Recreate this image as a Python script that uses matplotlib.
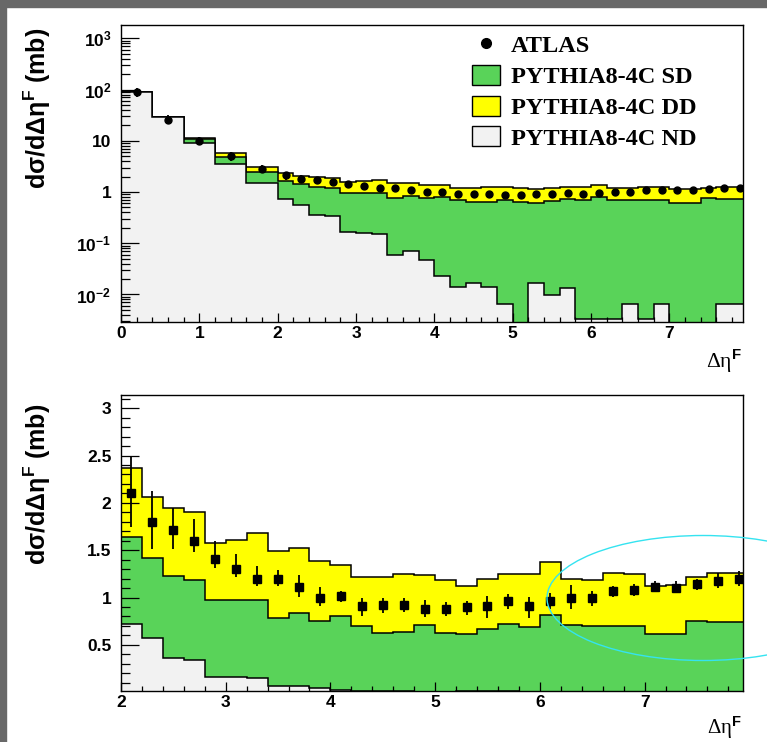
import numpy as np
import matplotlib
matplotlib.use('Agg')
import matplotlib.pyplot as plt
from matplotlib.patches import Rectangle, Ellipse, Patch
from matplotlib.lines import Line2D
from matplotlib.ticker import FixedLocator, MultipleLocator, FixedFormatter, FuncFormatter, NullFormatter

plt.rcParams['mathtext.fontset'] = 'custom'
plt.rcParams['mathtext.rm'] = 'Liberation Sans:bold'
plt.rcParams['mathtext.bf'] = 'Liberation Sans:bold'
plt.rcParams['mathtext.it'] = 'Liberation Sans:bold'

# ---------------- data ----------------
edges = [0.0, 0.4, 0.8, 1.2, 1.6, 2.0, 2.2, 2.4, 2.6, 2.8, 3.0, 3.2, 3.4, 3.6, 3.8,
         4.0, 4.2, 4.4, 4.6, 4.8, 5.0, 5.2, 5.4, 5.6, 5.8, 6.0, 6.2, 6.4, 6.6, 6.8,
         7.0, 7.2, 7.4, 7.6, 7.8, 8.0]

nd = [89.0, 28.5, 9.1, 3.6, 1.5, 0.72, 0.57, 0.36, 0.34, 0.165, 0.16, 0.15, 0.06, 0.07, 0.047,
      0.023, 0.0137, 0.0165, 0.0137, 0.0065, 0.0, 0.0165, 0.0099, 0.0133, 0.0033,
      0.0033, 0.0033, 0.0066, 0.0033, 0.0066, 0.0, 0.0, 0.0, 0.0066, 0.0066]
sd = [1.0, 0.5, 1.8, 1.26, 0.97, 0.92, 0.85, 0.87, 0.85, 0.805, 0.81, 0.82, 0.72, 0.765, 0.708,
      0.777, 0.686, 0.613, 0.626, 0.703, 0.625, 0.593, 0.66, 0.707, 0.687,
      0.807, 0.707, 0.688, 0.692, 0.693, 0.61, 0.61, 0.755, 0.738, 0.738]
dd = [1.0, 0.5, 0.2, 0.94, 0.63, 0.73, 0.64, 0.72, 0.71, 0.61, 0.64, 0.71, 0.71, 0.685, 0.635,
      0.54, 0.52, 0.59, 0.61, 0.53, 0.565, 0.51, 0.53, 0.53, 0.56,
      0.56, 0.48, 0.495, 0.565, 0.55, 0.51, 0.52, 0.465, 0.515, 0.515]

data_x = [0.2, 0.6, 1.0, 1.4, 1.8, 2.1, 2.3, 2.5, 2.7, 2.9, 3.1, 3.3, 3.5, 3.7, 3.9,
          4.1, 4.3, 4.5, 4.7, 4.9, 5.1, 5.3, 5.5, 5.7, 5.9, 6.1, 6.3, 6.5, 6.7, 6.9,
          7.1, 7.3, 7.5, 7.7, 7.9]
data_y = [88.0, 26.0, 10.0, 5.0, 2.8, 2.105, 1.80, 1.71, 1.60, 1.41, 1.30, 1.20, 1.20, 1.11, 1.00,
          1.02, 0.905, 0.92, 0.92, 0.88, 0.88, 0.895, 0.905, 0.96, 0.905, 0.96, 1.00, 1.00, 1.07, 1.08,
          1.11, 1.105, 1.14, 1.175, 1.20]
data_hi = [106.0, 31.5, 12.1, 6.1, 3.4, 2.49, 2.13, 1.95, 1.83, 1.60, 1.46, 1.33, 1.29, 1.24, 1.11,
           1.07, 1.00, 1.00, 0.99, 0.975, 0.95, 0.965, 1.02, 1.035, 1.01, 1.045, 1.13, 1.07, 1.12, 1.14,
           1.17, 1.175, 1.20, 1.26, 1.28]
data_lo = [73.0, 21.5, 8.3, 4.1, 2.3, 1.75, 1.51, 1.51, 1.48, 1.31, 1.22, 1.12, 1.12, 1.01, 0.91,
           0.95, 0.80, 0.84, 0.85, 0.79, 0.80, 0.82, 0.78, 0.88, 0.78, 0.88, 0.88, 0.91, 1.01, 1.02,
           1.06, 1.045, 1.08, 1.10, 1.12]

legend_labels = ['ATLAS', 'PYTHIA8-4C SD', 'PYTHIA8-4C DD', 'PYTHIA8-4C ND']
log_ticks = [1e-2, 1e-1, 1, 10, 1e2, 1e3]
log_tick_labels = [r'$\mathbf{10^{-2}}$', r'$\mathbf{10^{-1}}$', '1', '10',
                   r'$\mathbf{10^{2}}$', r'$\mathbf{10^{3}}$']

# ---------------- style ----------------
GREEN = '#59D359'
YELLOW = '#FFFF00'
GRAY = '#F2F2F2'
W, H = 767, 742

edges_a = np.array(edges)
nd_a, sd_a, dd_a = np.array(nd), np.array(sd), np.array(dd)
dx, dy = np.array(data_x), np.array(data_y)
dhi, dlo = np.array(data_hi), np.array(data_lo)

fig = plt.figure(figsize=(W / 100, H / 100), dpi=100)
fig.patch.set_facecolor('white')

def fx(px):
    return px / W

def fy(py):
    return 1 - py / H

ax1 = fig.add_axes([fx(121), fy(322), fx(743) - fx(121), fy(25) - fy(322)])
ax2 = fig.add_axes([fx(121), fy(691), fx(743) - fx(121), fy(395) - fy(691)])

tickfont = dict(family='Liberation Sans', weight='bold', size=12.5)


def draw_stack(ax, e, n, s, d, base, floor=None):
    layers = [(n + s + d, YELLOW), (n + s, GREEN), (n, GRAY)]
    for vals, col in layers:
        v = vals if floor is None else np.maximum(vals, floor)
        ax.stairs(v, e, baseline=base, fill=True, facecolor=col, edgecolor='none', lw=0)
        ax.stairs(v, e, baseline=base, fill=False, color='black', lw=1.1)


# top panel (log)
ax1.set_yscale('log')
draw_stack(ax1, edges_a, nd_a, sd_a, dd_a, base=1e-6, floor=1e-6)
ax1.errorbar(dx, dy, yerr=[dy - dlo, dhi - dy], fmt='o', color='black', ms=5,
             elinewidth=1.3, capsize=0, zorder=5)
ax1.set_xlim(0, 7.94)
ax1.set_ylim(0.0029, 1820)
ax1.yaxis.set_major_locator(FixedLocator(log_ticks))
ax1.yaxis.set_major_formatter(FixedFormatter(log_tick_labels))
minor = [m * 10.0 ** k for k in range(-3, 4) for m in range(2, 10)]
ax1.yaxis.set_minor_locator(FixedLocator(minor))
ax1.yaxis.set_minor_formatter(NullFormatter())
ax1.xaxis.set_major_locator(MultipleLocator(1))
ax1.xaxis.set_minor_locator(MultipleLocator(0.2))
ax1.xaxis.set_major_formatter(FuncFormatter(lambda v, p: '%g' % v))

# bottom panel (linear)
draw_stack(ax2, edges_a[5:], nd_a[5:], sd_a[5:], dd_a[5:], base=0.0)
ax2.errorbar(dx[5:], dy[5:], yerr=[dy[5:] - dlo[5:], dhi[5:] - dy[5:]], fmt='s', color='black',
             ms=5.5, elinewidth=1.3, capsize=0, zorder=5)
ax2.set_xlim(2, 7.94)
ax2.set_ylim(0.012, 3.14)
ax2.yaxis.set_major_locator(FixedLocator([0.5, 1, 1.5, 2, 2.5, 3]))
ax2.yaxis.set_minor_locator(MultipleLocator(0.1))
ax2.yaxis.set_major_formatter(FuncFormatter(lambda v, p: '%g' % v))
ax2.xaxis.set_major_locator(MultipleLocator(1))
ax2.xaxis.set_minor_locator(MultipleLocator(0.2))
ax2.xaxis.set_major_formatter(FuncFormatter(lambda v, p: '%g' % v))

for ax in (ax1, ax2):
    ax.tick_params(which='both', direction='in', top=False, right=False, width=0.9, color='black')
    ax.tick_params(axis='y', which='major', length=13, pad=7)
    ax.tick_params(axis='y', which='minor', length=6.5)
    ax.tick_params(axis='x', which='major', length=6.5, pad=3)
    ax.tick_params(axis='x', which='minor', length=3.5)
    for lab in ax.get_xticklabels() + ax.get_yticklabels():
        lab.set_fontproperties(matplotlib.font_manager.FontProperties(**tickfont))
    for sp in ax.spines.values():
        sp.set_linewidth(1.0)
        sp.set_zorder(6)

# legend
handles = [Line2D([], [], marker='o', color='black', ls='none', ms=7),
           Patch(facecolor=GREEN, edgecolor='black', lw=1),
           Patch(facecolor=YELLOW, edgecolor='black', lw=1),
           Patch(facecolor=GRAY, edgecolor='black', lw=1)]
leg = ax1.legend(handles, legend_labels, loc='upper left',
                 bbox_to_anchor=((472 - 121) / 622, (322 - 34) / 297),
                 frameon=False, borderpad=0, borderaxespad=0,
                 prop=dict(family='Liberation Serif', weight='bold', size=17.5),
                 handlelength=1.15, handleheight=0.9, handletextpad=0.45, labelspacing=0.3)

# axis titles
ylab = 'dσ/dΔη$^{\\mathbf{F}}$ (mb)'
fig.text(fx(37), fy(108), ylab, rotation=90, ha='center', va='center',
         family='Liberation Sans', weight='bold', size=18)
fig.text(fx(37), fy(484), ylab, rotation=90, ha='center', va='center',
         family='Liberation Sans', weight='bold', size=18)
xlab = 'Δη$^{\\mathbf{F}}$'
fig.text(fx(742), fy(368), xlab, ha='right', va='baseline', family='Liberation Serif', size=15.5)
fig.text(fx(742), fy(734), xlab, ha='right', va='baseline', family='Liberation Serif', size=15)

# annotation ellipse
fig.add_artist(Ellipse((fx(703), fy(598)), 312 / W, 125 / H, transform=fig.transFigure,
                       fill=False, edgecolor='#35E3F0', lw=1.0, zorder=10))

# dark frame bands
fig.add_artist(Rectangle((0, 0), 6 / W, 1, transform=fig.transFigure, color='#686868', zorder=20))
fig.add_artist(Rectangle((0, 1 - 7 / H), 1, 7 / H, transform=fig.transFigure, color='#686868', zorder=20))

fig.savefig('out.png', dpi=100)
